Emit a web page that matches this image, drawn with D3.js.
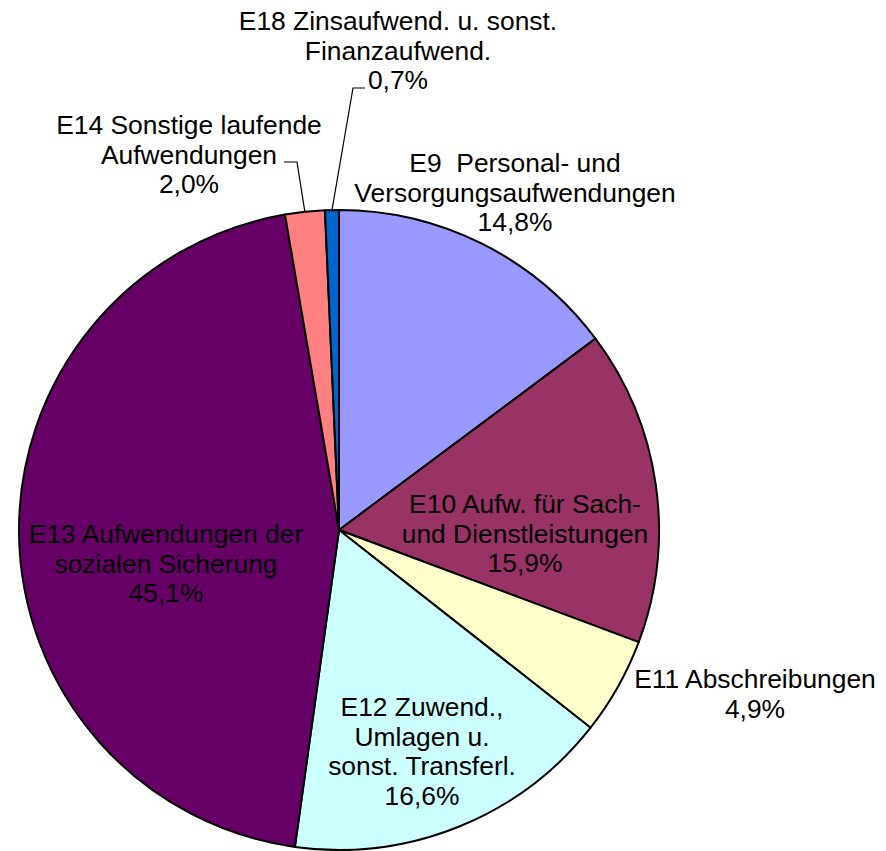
<!DOCTYPE html>
<html>
<head>
<meta charset="utf-8">
<script src="https://cdn.jsdelivr.net/npm/d3@7"></script>
<style>
  html, body { margin: 0; padding: 0; background: #ffffff; }
  svg { display: block; }
</style>
</head>
<body>
<svg id="chart" width="886" height="851"></svg>
<script>
// ---- data ----
const categories = [
  "E9  Personal- und Versorgungsaufwendungen",
  "E10 Aufw. für Sach- und Dienstleistungen",
  "E11 Abschreibungen",
  "E12 Zuwend., Umlagen u. sonst. Transferl.",
  "E13 Aufwendungen der sozialen Sicherung",
  "E14 Sonstige laufende Aufwendungen",
  "E18 Zinsaufwend. u. sonst. Finanzaufwend."
];
const labelLines = [
  ["E9  Personal- und", "Versorgungsaufwendungen"],
  ["E10 Aufw. für Sach-", "und Dienstleistungen"],
  ["E11 Abschreibungen"],
  ["E12 Zuwend.,", "Umlagen u.", "sonst. Transferl."],
  ["E13 Aufwendungen der", "sozialen Sicherung"],
  ["E14 Sonstige laufende", "Aufwendungen"],
  ["E18 Zinsaufwend. u. sonst.", "Finanzaufwend."]
];
const values = [14.8, 15.9, 4.9, 16.6, 45.1, 2.0, 0.7];
const colors = ["#9999FF", "#993366", "#FFFFCC", "#CCFFFF", "#660066", "#FF8080", "#0066CC"];

// ---- layout (label anchors relative to pie centre, in pixels) ----
const cx = 339, cy = 530, R = 320;
const fontSize = 26.4, lineH = 29.7;
const labelAnchor = [ // [centre x offset, first baseline y offset]
  [176, -358],
  [186, -17],
  [416, 158],
  [83, 186],
  [-173, 13],
  [-150, -396],
  [59, -500]
];
// leader lines: elbow point (relative to centre) and horizontal end x offset
const leaders = {
  5: { elbow: [-42, -368], endX: -55 },
  6: { elbow: [14, -442], endX: 26 }
};

const svg = d3.select("#chart");
const g = svg.append("g").attr("transform", `translate(${cx},${cy})`);

const pie = d3.pie().sort(null).value(d => d)
  .startAngle(0).endAngle(2 * Math.PI);
const arcs = pie(values);
const arc = d3.arc().innerRadius(0).outerRadius(R);

g.selectAll("path.slice")
  .data(arcs)
  .join("path")
  .attr("class", "slice")
  .attr("d", arc)
  .attr("fill", (d, i) => colors[i])
  .attr("stroke", "#000")
  .attr("stroke-width", 2)
  .attr("stroke-linejoin", "round");

const fmt = v => d3.format(".1f")(v).replace(".", ",") + "%";

// leader lines
Object.entries(leaders).forEach(([k, L]) => {
  const i = +k;
  const a = (arcs[i].startAngle + arcs[i].endAngle) / 2;
  const px = R * Math.sin(a), py = -R * Math.cos(a);
  g.append("polyline")
    .attr("points", [[px, py], L.elbow, [L.endX, L.elbow[1]]].map(p => p.join(",")).join(" "))
    .attr("fill", "none")
    .attr("stroke", "#000")
    .attr("stroke-width", 1.2);
});

// labels
arcs.forEach((d, i) => {
  const lines = labelLines[i].concat([fmt(values[i])]);
  const t = g.append("text")
    .attr("font-family", "'Liberation Sans', Arial, sans-serif")
    .attr("font-size", fontSize)
    .attr("fill", "#000")
    .attr("text-anchor", "middle");
  lines.forEach((ln, j) => {
    t.append("tspan")
      .attr("x", labelAnchor[i][0])
      .attr("y", labelAnchor[i][1] + j * lineH)
      .attr("xml:space", "preserve")
      .style("white-space", "pre")
      .text(ln);
  });
});
</script>
</body>
</html>
